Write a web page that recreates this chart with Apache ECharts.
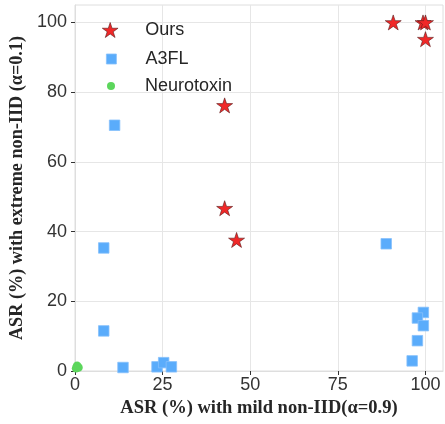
<!DOCTYPE html>
<html>
<head>
<meta charset="utf-8">
<script src="https://cdn.jsdelivr.net/npm/echarts@6/dist/echarts.min.js"></script>
<style>html,body{margin:0;padding:0;background:#fff}#c{width:445px;height:424px}</style>
</head>
<body>
<div id="c"></div>
<script>
// Data: [ASR mild non-IID (x), ASR extreme non-IID (y)]
const oursPoints = [[42.7,76.2],[42.7,46.7],[46.1,37.6],[90.8,100],[99.3,100],[100,100],[100,95.2]];
const a3flPoints = [[11.3,70.5],[8.2,35.3],[8.2,11.5],[13.7,1.0],[23.4,1.2],[25.3,2.4],[27.5,1.2],[88.8,36.5],[99.4,16.8],[97.7,15.2],[99.4,13.0],[97.7,8.7],[96.2,2.9]];
const neurotoxinPoints = [[0.6,1.5],[1.0,1.0],[0.3,0.8]];
const seriesNames = ['Ours','A3FL','Neurotoxin'];
const xTicks = [0,25,50,75,100];
const yTicks = [0,20,40,60,80,100];
const xTitle = 'ASR (%) with mild non-IID(\u03b1=0.9)';
const yTitle = 'ASR (%) with extreme non-IID (\u03b1=0.1)';

const STAR = 'path://M50 0 L61.23 34.55 L97.55 34.55 L68.16 55.9 L79.39 90.45 L50 69.1 L20.61 90.45 L31.84 55.9 L2.45 34.55 L38.77 34.55 Z';
const tickFont = {fontFamily:'Liberation Sans, Arial, sans-serif', fontSize:18, color:'#333'};
const titleFontX = {fontFamily:'Liberation Serif, Times New Roman, serif', fontSize:18.5, fontWeight:'bold', color:'#262626'};
const titleFontY = {fontFamily:'Liberation Serif, Times New Roman, serif', fontSize:18.2, fontWeight:'bold', color:'#262626'};
const starStyle = {color:'#f02828', borderColor:'#5a1a1a', borderWidth:0.6, opacity:1};
const squareStyle = {color:'#5aacfb', borderColor:'#86c0fb', borderWidth:0.8, opacity:1};
const circleStyle = {color:'#5cd65c', borderWidth:0, opacity:1};

function legendFor(name, icon, style, w, h, left, top, pad) {
  return {
    data:[{name:name, icon:icon, itemStyle:style}], left:left, top:top, padding:0,
    itemWidth:w, itemHeight:h, selectedMode:false, itemStyle:style,
    formatter:'{a|{name}}',
    textStyle:{fontFamily:'Liberation Sans, Arial, sans-serif', fontSize:18, color:'#262626',
      rich:{a:{padding:[0,0,0,pad], fontFamily:'Liberation Sans, Arial, sans-serif', fontSize:18, color:'#262626'}}}
  };
}

const chart = echarts.init(document.getElementById('c'), null, {renderer:'canvas'});
chart.setOption({
  animation:false,
  backgroundColor:'#fff',
  grid:{left:75, top:5, right:2, bottom:53, show:true, borderColor:'#dedede', borderWidth:1, backgroundColor:'#fff'},
  legend:[
    legendFor(seriesNames[0], STAR, starStyle, 16, 15, 102, 21, 22),
    legendFor(seriesNames[1], 'rect', squareStyle, 10, 10, 106, 50, 24),
    legendFor(seriesNames[2], 'circle', circleStyle, 8, 8, 107, 77, 25)
  ],
  xAxis:{
    type:'value', min:0, max:105, interval:25,
    name:xTitle, nameLocation:'middle', nameGap:27, nameTextStyle:titleFontX,
    axisLine:{show:true, lineStyle:{color:'#dedede'}},
    axisTick:{show:true, length:4, customValues:xTicks, lineStyle:{color:'#333'}},
    axisLabel:Object.assign({margin:5, customValues:xTicks}, tickFont),
    splitLine:{show:true, lineStyle:{color:'#e6e6e6', width:1}}
  },
  yAxis:{
    type:'value', min:0, max:105, interval:20,
    name:yTitle, nameLocation:'middle', nameGap:47, nameTextStyle:titleFontY,
    axisLine:{show:true, lineStyle:{color:'#dedede'}},
    axisTick:{show:true, length:4, customValues:yTicks, lineStyle:{color:'#333'}},
    axisLabel:Object.assign({margin:8, customValues:yTicks}, tickFont),
    splitLine:{show:true, lineStyle:{color:'#e6e6e6', width:1}}
  },
  series:[
    {name:seriesNames[0], type:'scatter', data:oursPoints, symbol:STAR, symbolSize:[16,15], clip:true, z:3, itemStyle:starStyle},
    {name:seriesNames[1], type:'scatter', data:a3flPoints, symbol:'rect', symbolSize:10.5, clip:true, z:2, itemStyle:squareStyle},
    {name:seriesNames[2], type:'scatter', data:neurotoxinPoints, symbol:'circle', symbolSize:8.5, clip:true, z:2, itemStyle:circleStyle}
  ]
});
</script>
</body>
</html>
